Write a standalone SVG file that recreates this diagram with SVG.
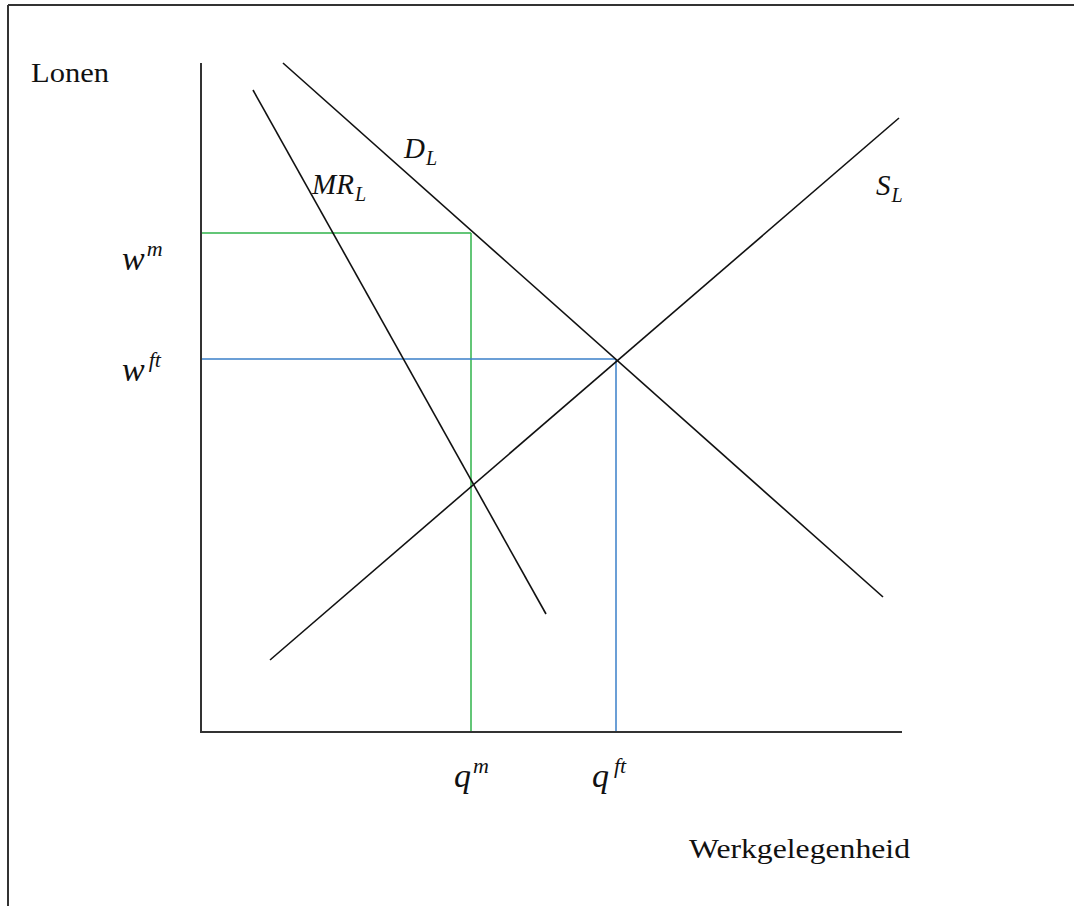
<svg xmlns="http://www.w3.org/2000/svg" width="1074" height="906" viewBox="0 0 1074 906">
<style>
.frame{stroke:#333;stroke-width:2;fill:none}
.axis{stroke:#333;stroke-width:2;fill:none}
.curve{stroke:#111;stroke-width:1.6;fill:none}
.green{stroke:#2fb34a;stroke-width:1.5;fill:none}
.blue{stroke:#3a7fc9;stroke-width:1.5;fill:none}
.lab{font-family:"Liberation Serif",serif;fill:#111}
.math{font-family:"Liberation Serif",serif;font-style:italic;fill:#111}
</style>
<rect width="1074" height="906" fill="#fff"/>
<g id="frame">
<line class="frame" x1="8" y1="5" x2="1074" y2="5"/>
<line class="frame" x1="8" y1="5" x2="8" y2="906"/>
</g>
<g id="axes">
<line class="axis" x1="201" y1="63" x2="201" y2="733"/>
<line class="axis" x1="200" y1="732" x2="902" y2="732"/>
</g>
<g id="connectors">
<line class="green" x1="202" y1="233" x2="471" y2="233"/>
<line class="green" x1="471" y1="233" x2="471" y2="731"/>
<line class="blue" x1="202" y1="359" x2="616" y2="359"/>
<line class="blue" x1="616" y1="359" x2="616" y2="731"/>
<line id="DL" class="curve" x1="283" y1="63" x2="883" y2="597"/>
<line id="MRL" class="curve" x1="253" y1="90" x2="546" y2="614"/>
<line id="SL" class="curve" x1="270" y1="660" x2="899" y2="118"/>
</g>
<g id="label-lonen"><text class="lab" x="31" y="82" font-size="27" textLength="78" lengthAdjust="spacingAndGlyphs">Lonen</text></g>
<g id="label-werk"><text class="lab" x="689" y="858" font-size="28" textLength="221" lengthAdjust="spacingAndGlyphs">Werkgelegenheid</text></g>
<g id="label-wm"><text class="math" x="122" y="270" font-size="34">w<tspan font-size="22" dx="2" dy="-14">m</tspan></text></g>
<g id="label-wft"><text class="math" x="122" y="381" font-size="34">w<tspan font-size="22" dx="4" dy="-14">ft</tspan></text></g>
<g id="label-qm"><text class="math" x="454" y="787" font-size="34">q<tspan font-size="22" dx="2" dy="-14">m</tspan></text></g>
<g id="label-qft"><text class="math" x="592" y="787" font-size="34">q<tspan font-size="22" dx="5" dy="-14">ft</tspan></text></g>
<g id="label-MRL"><text class="math" x="312" y="194" font-size="29">MR<tspan font-size="20" dx="1" dy="7">L</tspan></text></g>
<g id="label-DL"><text class="math" x="404" y="158" font-size="29">D<tspan font-size="20" dx="1" dy="7">L</tspan></text></g>
<g id="label-SL"><text class="math" x="876" y="195" font-size="29">S<tspan font-size="20" dx="1" dy="7">L</tspan></text></g>
</svg>
